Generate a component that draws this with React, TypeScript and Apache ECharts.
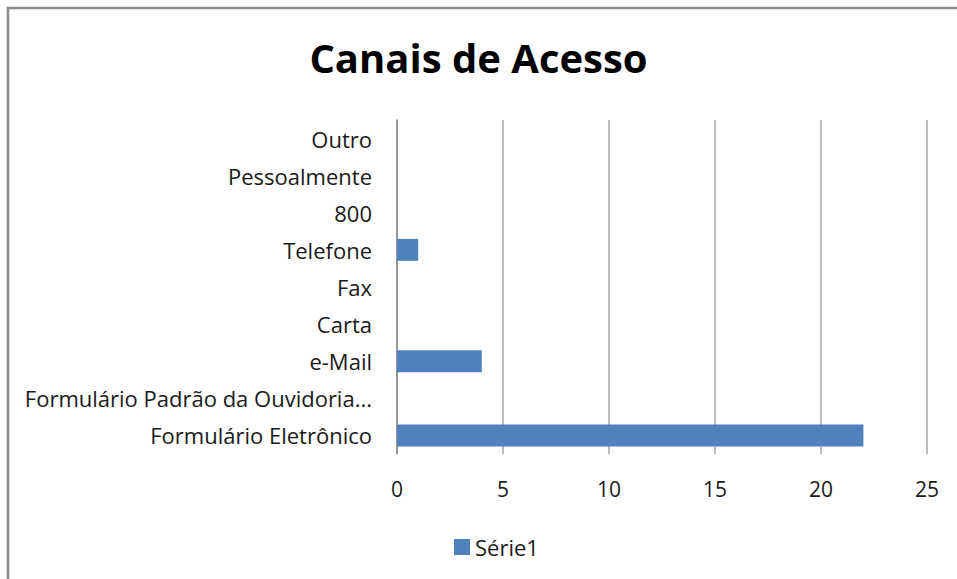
import React, { useEffect, useRef } from "react";
import * as echarts from "echarts";

const categories = [
  "Formulário Eletrônico",
  "Formulário Padrão da Ouvidoria...",
  "e-Mail",
  "Carta",
  "Fax",
  "Telefone",
  "800",
  "Pessoalmente",
  "Outro",
];
const serie1 = [22, 0, 4, 0, 0, 1, 0, 0, 0];
const xTicks = { min: 0, max: 25, interval: 5 };
const title = "Canais de Acesso";
const seriesName = "Série1";

export default function App() {
  const ref = useRef<HTMLDivElement>(null);
  useEffect(() => {
    document.body.style.margin = "0";
    const chart = echarts.init(ref.current!, null, { renderer: "svg" });
    const font = "'Open Sans', 'Liberation Sans', sans-serif";
    chart.setOption({
      animation: false,
      backgroundColor: "#ffffff",
      title: {
        text: title,
        left: "center",
        top: 32,
        textStyle: { fontFamily: font, fontSize: 40, fontWeight: "bold", color: "#000" },
      },
      legend: {
        data: [seriesName],
        left: 449,
        top: 531,
        itemWidth: 16,
        itemHeight: 16,
        itemGap: 6,
        icon: "rect",
        textStyle: { fontFamily: font, fontSize: 22, color: "#1a1a1a" },
      },
      grid: { left: 397, right: 30, top: 120, height: 334, containLabel: false },
      xAxis: {
        type: "value",
        min: xTicks.min,
        max: xTicks.max,
        interval: xTicks.interval,
        axisLine: { show: false },
        axisTick: { show: false },
        splitLine: { show: true, lineStyle: { color: "#a6a6a6", width: 1.5 } },
        axisLabel: { fontFamily: font, fontSize: 21, color: "#1a1a1a", margin: 24 },
      },
      yAxis: {
        type: "category",
        data: categories,
        axisLine: { show: true, lineStyle: { color: "#8a8a8a", width: 1.5 } },
        axisTick: { show: false },
        axisLabel: { fontFamily: font, fontSize: 22, color: "#1a1a1a", margin: 25 },
      },
      series: [
        {
          name: seriesName,
          type: "bar",
          data: serie1,
          barCategoryGap: "41%",
          itemStyle: { color: "#4f81bd" },
        },
      ],
      graphic: [
        {
          type: "rect",
          shape: { x: 8, y: 8, width: 1000, height: 1000 },
          style: { fill: "none", stroke: "#8a8a8a", lineWidth: 2.5 },
          silent: true,
        },
      ],
    });
    return () => chart.dispose();
  }, []);
  return <div ref={ref} style={{ width: 957, height: 579 }} />;
}
